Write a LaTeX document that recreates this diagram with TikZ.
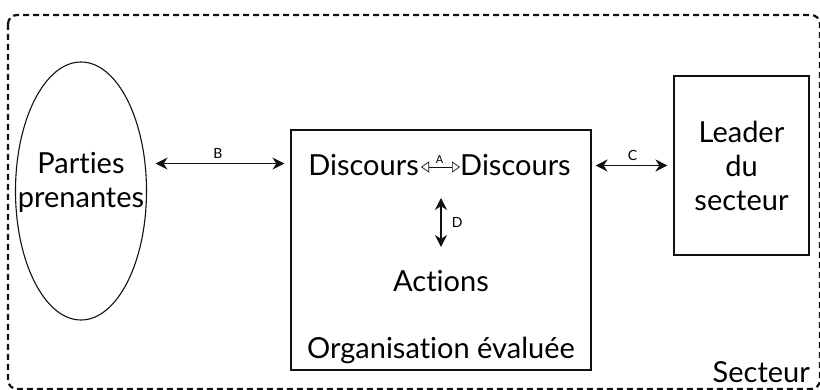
\documentclass[tikz,border=0pt]{standalone}
\usepackage{fontspec}
\setmainfont{Lato}[Ligatures=NoCommon]
\usetikzlibrary{arrows.meta,shapes.geometric}
\definecolor{trait}{HTML}{111111}

\tikzset{
  cadre/.style={draw=trait,line width=1.1pt},
  texte/.style={font=\fontsize{29}{34}\selectfont,align=center,inner sep=0pt},
  lettre/.style={font=\fontsize{14}{15}\selectfont,inner sep=1pt},
  fleche/.style={{Stealth[length=12pt,width=12pt]}-{Stealth[length=12pt,width=12pt]},line width=1.5pt,draw=trait}
}

\begin{document}
\begin{tikzpicture}[x=1pt,y=-1pt]
\useasboundingbox (0,0) rectangle (820,390);
% le secteur
\draw[draw=trait,line width=2.2pt,dash pattern=on 6pt off 4pt,rounded corners=9pt] (8,15) rectangle (820,389);
\node[texte,anchor=south east] (secteur) at (810,383) {Secteur};

% les trois acteurs
\node[cadre,ellipse,minimum width=131pt,minimum height=258pt] (parties) at (81,191) {};
\node[texte] (partiestxt) at (81,182) {Parties\\prenantes};
\node[cadre,minimum width=300pt,minimum height=240pt] (orga) at (441,250) {};
\node[cadre,minimum width=135pt,minimum height=179pt,texte] (leader) at (741.5,165.5) {Leader\\du\\secteur};

% contenu de l'organisation
\node[texte,anchor=east] (disc1) at (419,165) {Discours};
\node[texte,anchor=west] (disc2) at (460,165) {Discours};
\node[texte] (actions) at (441,281) {Actions};
\node[texte] (nomorga) at (441,350) {Organisation évaluée};
\coordinate (dhaut) at (441,198);
\coordinate (dbas) at (441,247);

% les relations
\draw[{Triangle[open,length=8pt,width=11pt]}-{Triangle[open,length=8pt,width=11pt]},line width=0.7pt,draw=trait,shorten <=2pt]
  ([yshift=-2pt]disc1.east) -- ([yshift=-2pt]disc2.west) node[midway,above=3pt,font=\fontsize{11}{12}\selectfont,inner sep=0pt] {A};
\draw[fleche,shorten <=10pt,shorten >=6pt] (parties.23) -- (parties.23 -| orga.west) node[midway,above=3pt,lettre] {B};
\draw[fleche,shorten <=4pt,shorten >=6pt] (leader.west -| orga.east) -- (leader.west) node[midway,above=3pt,lettre] {C};
\draw[fleche] (dhaut) -- (dbas) node[midway,right=9pt,lettre] {D};
\end{tikzpicture}
\end{document}
